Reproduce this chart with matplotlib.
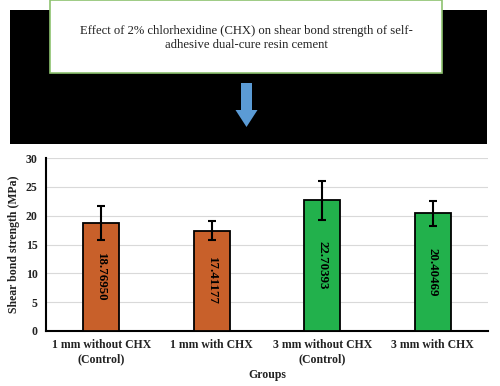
import numpy as np
import matplotlib.pyplot as plt
from matplotlib.patches import Rectangle, FancyArrow

groups = ['1 mm without CHX\n(Control)', '1 mm with CHX',
          '3 mm without CHX\n(Control)', '3 mm with CHX']
means = [18.76950, 17.41177, 22.70393, 20.40469]
errs = [2.9, 1.65, 3.4, 2.2]
labels = ['18.76950', '17.41177', '22.70393', '20.40469']
colors = ['#C8602A', '#C8602A', '#22B14C', '#22B14C']

title = 'Effect of 2% chlorhexidine (CHX) on shear bond strength of self-\nadhesive dual-cure resin cement'

plt.rcParams['font.family'] = ['Liberation Serif', 'DejaVu Serif']

fig = plt.figure(figsize=(5, 3.86), dpi=100)

# top banner drawn in pixel coordinates
ax0 = fig.add_axes([0, 0, 1, 1])
ax0.set_xlim(0, 500)
ax0.set_ylim(386, 0)
ax0.axis('off')
ax0.add_patch(Rectangle((10, 10), 477, 134, facecolor='black', edgecolor='none'))
ax0.add_patch(Rectangle((50, 0), 392, 73, facecolor='white', edgecolor='#8DC26F', lw=1.2))
ax0.text(246, 38, title, ha='center', va='center', fontsize=9.1, color='#222222', linespacing=1.15)
ax0.add_patch(FancyArrow(246.5, 83, 0, 44, width=11, head_width=22, head_length=17,
                         length_includes_head=True, facecolor='#5B9BD5', edgecolor='none'))

# bar chart
ax = fig.add_axes([0.092, 0.1425, 0.884, 0.448])
x = np.arange(len(groups))
ax.bar(x, means, width=0.33, color=colors, edgecolor='black', linewidth=1.3, zorder=3,
       yerr=errs, error_kw=dict(ecolor='black', elinewidth=1.5, capsize=3, capthick=1.5))
for xi, m, lab in zip(x, means, labels):
    ax.text(xi, m / 2, lab, rotation=-90, ha='center', va='center', fontsize=9.3,
            fontweight='bold', color='black', zorder=4)

ax.set_xlim(-0.5, 3.5)
ax.set_ylim(0, 30)
ax.set_yticks(np.arange(0, 31, 5))
ax.set_xticks(x)
ax.set_xticklabels(groups, fontsize=8.5, fontweight='bold', color='#222222')
for t in ax.get_yticklabels():
    t.set_fontsize(8.5)
    t.set_fontweight('bold')
    t.set_color('#222222')
ax.tick_params(length=0, pad=6)
ax.grid(axis='y', color='#D9D9D9', linewidth=0.8, zorder=0)
for s in ['top', 'right']:
    ax.spines[s].set_visible(False)
for s in ['left', 'bottom']:
    ax.spines[s].set_linewidth(1.5)
ax.set_ylabel('Shear bond strength (MPa)', fontsize=8.5, fontweight='bold', color='#222222')
ax.set_xlabel('Groups', fontsize=8.5, fontweight='bold', color='#222222', labelpad=3)

fig.savefig('out.png', dpi=100, facecolor='white')
